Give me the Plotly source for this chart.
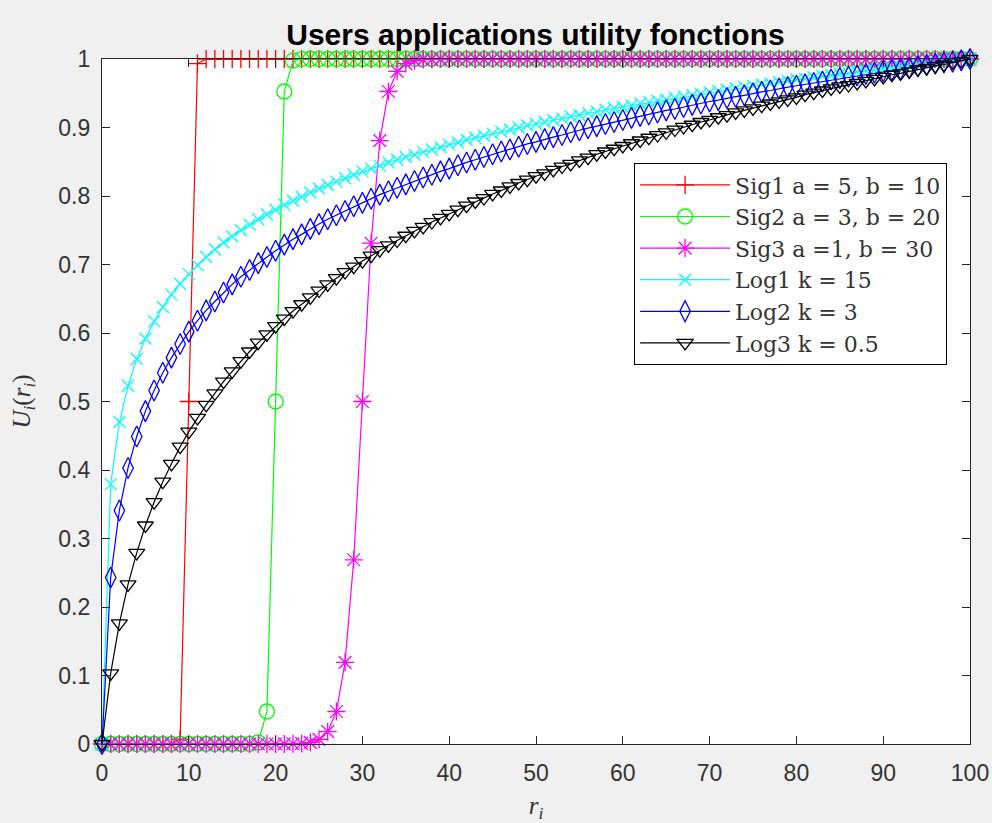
import plotly.graph_objects as go

# x positions (r_i)
r = list(range(0, 101))

# ---- data (values at each integer r) ----
sig1 = [
    0, 0, 0, 0, 0, 0, 0, 0.0000003, 0.0000454, 0.00669,
    0.5, 0.99331, 0.99995, 1, 1, 1, 1, 1, 1, 1,
    1, 1, 1, 1, 1, 1, 1, 1, 1, 1,
    1, 1, 1, 1, 1, 1, 1, 1, 1, 1,
    1, 1, 1, 1, 1, 1, 1, 1, 1, 1,
    1, 1, 1, 1, 1, 1, 1, 1, 1, 1,
    1, 1, 1, 1, 1, 1, 1, 1, 1, 1,
    1, 1, 1, 1, 1, 1, 1, 1, 1, 1,
    1, 1, 1, 1, 1, 1, 1, 1, 1, 1,
    1, 1, 1, 1, 1, 1, 1, 1, 1, 1,
    1,
]

sig2 = [
    0, 0, 0, 0, 0, 0, 0, 0, 0, 0,
    0, 0, 0, 0, 0, 0.0000003, 0.0000061, 0.000123, 0.00247, 0.04743,
    0.5, 0.95257, 0.99753, 0.99988, 0.99999, 1, 1, 1, 1, 1,
    1, 1, 1, 1, 1, 1, 1, 1, 1, 1,
    1, 1, 1, 1, 1, 1, 1, 1, 1, 1,
    1, 1, 1, 1, 1, 1, 1, 1, 1, 1,
    1, 1, 1, 1, 1, 1, 1, 1, 1, 1,
    1, 1, 1, 1, 1, 1, 1, 1, 1, 1,
    1, 1, 1, 1, 1, 1, 1, 1, 1, 1,
    1, 1, 1, 1, 1, 1, 1, 1, 1, 1,
    1,
]

sig3 = [
    0, 0, 0, 0, 0, 0, 0, 0, 0, 0,
    0, 0, 0, 0, 0, 0, 0.0000008, 0.0000023, 0.0000061, 0.0000167,
    0.0000454, 0.000123, 0.000335, 0.000911, 0.002473, 0.006693, 0.017986, 0.047426, 0.119203, 0.268941,
    0.5, 0.731059, 0.880797, 0.952574, 0.982014, 0.993307, 0.997527, 0.999089, 0.999665, 0.999877,
    0.999955, 0.999983, 0.999994, 0.999998, 0.999999, 1, 1, 1, 1, 1,
    1, 1, 1, 1, 1, 1, 1, 1, 1, 1,
    1, 1, 1, 1, 1, 1, 1, 1, 1, 1,
    1, 1, 1, 1, 1, 1, 1, 1, 1, 1,
    1, 1, 1, 1, 1, 1, 1, 1, 1, 1,
    1, 1, 1, 1, 1, 1, 1, 1, 1, 1,
    1,
]

log1 = [
    0, 0.379, 0.470, 0.523, 0.562, 0.592, 0.617, 0.638, 0.656, 0.672,
    0.686, 0.699, 0.711, 0.722, 0.732, 0.741, 0.750, 0.758, 0.766, 0.773,
    0.780, 0.787, 0.793, 0.799, 0.805, 0.811, 0.816, 0.821, 0.826, 0.831,
    0.836, 0.840, 0.844, 0.849, 0.853, 0.857, 0.860, 0.864, 0.868, 0.871,
    0.875, 0.878, 0.882, 0.885, 0.888, 0.891, 0.894, 0.897, 0.900, 0.903,
    0.905, 0.908, 0.911, 0.913, 0.916, 0.918, 0.921, 0.923, 0.926, 0.928,
    0.930, 0.932, 0.935, 0.937, 0.939, 0.941, 0.943, 0.945, 0.947, 0.949,
    0.951, 0.953, 0.955, 0.957, 0.959, 0.961, 0.963, 0.964, 0.966, 0.968,
    0.970, 0.971, 0.973, 0.975, 0.976, 0.978, 0.979, 0.981, 0.983, 0.984,
    0.986, 0.987, 0.989, 0.990, 0.992, 0.993, 0.994, 0.996, 0.997, 0.999,
    1.0,
]

log2 = [
    0, 0.243, 0.341, 0.403, 0.449, 0.486, 0.516, 0.542, 0.564, 0.584,
    0.602, 0.618, 0.633, 0.646, 0.659, 0.671, 0.682, 0.692, 0.702, 0.711,
    0.720, 0.729, 0.737, 0.744, 0.752, 0.759, 0.766, 0.772, 0.778, 0.785,
    0.790, 0.796, 0.802, 0.807, 0.812, 0.817, 0.822, 0.827, 0.831, 0.836,
    0.840, 0.845, 0.849, 0.853, 0.857, 0.861, 0.865, 0.868, 0.872, 0.876,
    0.879, 0.883, 0.886, 0.889, 0.893, 0.896, 0.899, 0.902, 0.905, 0.908,
    0.911, 0.914, 0.917, 0.919, 0.922, 0.925, 0.927, 0.930, 0.933, 0.935,
    0.938, 0.940, 0.943, 0.945, 0.947, 0.950, 0.952, 0.954, 0.957, 0.959,
    0.961, 0.963, 0.965, 0.967, 0.970, 0.972, 0.974, 0.976, 0.978, 0.980,
    0.982, 0.984, 0.985, 0.987, 0.989, 0.991, 0.993, 0.995, 0.996, 0.998,
    1.0,
]

log3 = [
    0, 0.103, 0.176, 0.233, 0.279, 0.319, 0.353, 0.383, 0.409, 0.434,
    0.456, 0.476, 0.495, 0.512, 0.529, 0.544, 0.559, 0.573, 0.586, 0.598,
    0.610, 0.621, 0.632, 0.642, 0.652, 0.662, 0.671, 0.680, 0.689, 0.697,
    0.705, 0.713, 0.721, 0.728, 0.735, 0.742, 0.749, 0.755, 0.762, 0.768,
    0.774, 0.780, 0.786, 0.792, 0.797, 0.803, 0.808, 0.814, 0.819, 0.824,
    0.829, 0.833, 0.838, 0.843, 0.847, 0.852, 0.856, 0.861, 0.865, 0.869,
    0.873, 0.877, 0.881, 0.885, 0.889, 0.893, 0.897, 0.901, 0.904, 0.908,
    0.911, 0.915, 0.918, 0.922, 0.925, 0.928, 0.932, 0.935, 0.938, 0.941,
    0.944, 0.948, 0.951, 0.954, 0.957, 0.960, 0.962, 0.965, 0.968, 0.971,
    0.974, 0.977, 0.979, 0.982, 0.985, 0.987, 0.990, 0.992, 0.995, 0.997,
    1.0,
]

names = ["Sig1 a = 5, b = 10", "Sig2 a = 3, b = 20", "Sig3 a =1, b = 30",
         "Log1 k = 15", "Log2 k = 3", "Log3 k = 0.5"]
series = [sig1, sig2, sig3, log1, log2, log3]
colors = ["#ff0000", "#00ff00", "#ff00ff", "#00ffff", "#0000ff", "#000000"]
symbols = ["cross-thin-open", "circle-open", "asterisk-open",
           "x-thin-open", "diamond-tall-open", "triangle-down-open"]
sizes = [13, 15, 15, 12, 15, 14]

x_ticks = [0, 10, 20, 30, 40, 50, 60, 70, 80, 90, 100]
y_ticks = [0, 0.1, 0.2, 0.3, 0.4, 0.5, 0.6, 0.7, 0.8, 0.9, 1]
y_ticktext = ["0", "0.1", "0.2", "0.3", "0.4", "0.5", "0.6", "0.7", "0.8", "0.9", "1"]

fig = go.Figure()
for name, ys, c, sym, sz in zip(names, series, colors, symbols, sizes):
    fig.add_trace(go.Scatter(
        x=r, y=ys, name=name, mode="lines+markers",
        line=dict(color=c, width=1.2),
        marker=dict(symbol=sym, size=sz, color=c, line=dict(color=c, width=1.3)),
        cliponaxis=False,
    ))

axis_common = dict(
    showline=True, linecolor="#262626", linewidth=1.3, mirror="allticks",
    ticks="inside", ticklen=8, tickwidth=1, tickcolor="#262626",
    showgrid=False, zeroline=False, automargin=False,
    tickfont=dict(family="Liberation Sans, Arial", size=23, color="#333333"),
)

fig.update_layout(
    width=992, height=823,
    margin=dict(l=102, r=22, t=59, b=79),
    paper_bgcolor="#f0f0f0", plot_bgcolor="#ffffff",
    title=dict(text="<b>Users applications utility fonctions</b>",
               x=0.5398, xanchor="center", y=1 - 34 / 823, yanchor="middle",
               font=dict(family="Liberation Sans, Arial", size=30, color="#000000")),
    xaxis=dict(range=[0, 100], tickvals=x_ticks, ticklabelstandoff=8, **axis_common,
               title=dict(text="<i>r<sub>i</sub></i>", standoff=13,
                          font=dict(family="Liberation Serif, serif", size=25, color="#333333"))),
    yaxis=dict(range=[0, 1], tickvals=y_ticks, ticktext=y_ticktext, ticklabelstandoff=6, **axis_common,
               title=dict(text="<i>U<sub>i</sub></i>(<i>r<sub>i</sub></i>)", standoff=20,
                          font=dict(family="Liberation Serif, serif", size=25, color="#333333"))),
    legend=dict(x=0.613, y=0.848, xanchor="left", yanchor="top",
                bgcolor="#ffffff", bordercolor="#000000", borderwidth=1,
                itemwidth=90, tracegroupgap=0,
                font=dict(family="DejaVu Serif, serif", size=22, color="#333333")),
    showlegend=True,
)

fig.write_html("out.html")
